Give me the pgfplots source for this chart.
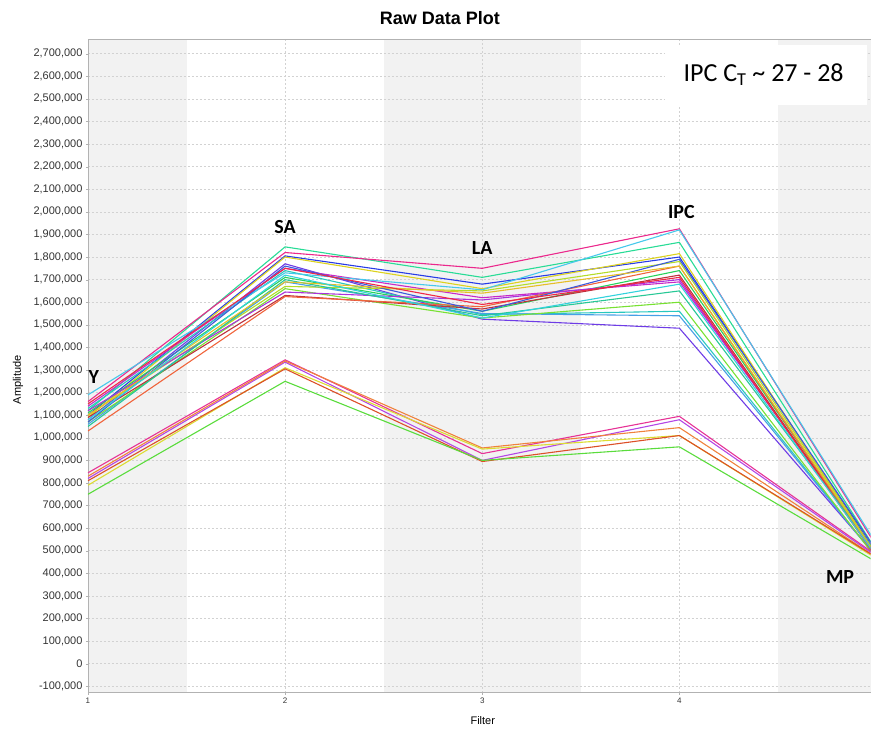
\documentclass[border=0pt]{standalone}
\usepackage{fontspec}
\setmainfont{Liberation Sans}
\newfontfamily\calib{Carlito}
\usepackage{pgfplots}
\pgfplotsset{compat=1.18}

% line colours
\definecolor{c1}{RGB}{40,220,150}
\definecolor{c2}{RGB}{235,40,140}
\definecolor{c3}{RGB}{40,60,230}
\definecolor{c4}{RGB}{220,210,30}
\definecolor{c5}{RGB}{110,60,230}
\definecolor{c6}{RGB}{200,40,200}
\definecolor{c7}{RGB}{40,200,190}
\definecolor{c8}{RGB}{70,200,235}
\definecolor{c9}{RGB}{40,210,90}
\definecolor{c10}{RGB}{70,160,230}
\definecolor{c11}{RGB}{180,220,40}
\definecolor{c12}{RGB}{120,225,50}
\definecolor{c13}{RGB}{170,50,220}
\definecolor{c14}{RGB}{190,50,60}
\definecolor{c15}{RGB}{240,100,60}
\definecolor{c16}{RGB}{60,90,220}
\definecolor{c17}{RGB}{40,200,150}
\definecolor{c18}{RGB}{230,190,40}
\definecolor{c19}{RGB}{240,40,70}
\definecolor{c20}{RGB}{50,210,220}
\definecolor{l1}{RGB}{230,50,150}
\definecolor{l2}{RGB}{180,70,230}
\definecolor{l3}{RGB}{240,130,60}
\definecolor{l4}{RGB}{220,220,50}
\definecolor{l5}{RGB}{220,80,40}
\definecolor{l6}{RGB}{90,220,60}
\definecolor{band}{RGB}{242,242,242}

\begin{document}
\begin{tikzpicture}
\begin{axis}[
  at={(0,0)}, anchor=south west,
  scale only axis, width=783pt, height=654pt,
  set layers,
  xmin=1, xmax=4.97,
  ymin=-128000, ymax=2765000,
  xtick={1,2,3,4},
  ytick distance=100000,
  scaled y ticks=false,
  /pgf/number format/assume math mode=true,
  yticklabel style={font=\fontsize{11}{12}\selectfont, color=black!80,
    /pgf/number format/.cd, fixed, 1000 sep={,}},
  xticklabel style={font=\fontsize{8}{9}\selectfont, color=black!80},
  grid=major,
  grid style={gray!35, dash pattern=on 2pt off 2pt, line width=0.6pt},
  axis x line*=bottom, axis y line*=left,
  axis line style={gray!60, line width=0.8pt, -},
  tick style={gray!60},
  tick align=outside, major tick length=2pt,
  every axis plot/.append style={line width=1.1pt, mark=none},
]
% shaded filter bands
\addplot[fill=band, draw=none, line width=0pt, on layer=axis background]
  coordinates {(1,-128000) (1.5,-128000) (1.5,2765000) (1,2765000)} -- cycle;
\addplot[fill=band, draw=none, line width=0pt, on layer=axis background]
  coordinates {(2.5,-128000) (3.5,-128000) (3.5,2765000) (2.5,2765000)} -- cycle;
\addplot[fill=band, draw=none, line width=0pt, on layer=axis background]
  coordinates {(4.5,-128000) (5,-128000) (5,2765000) (4.5,2765000)} -- cycle;

% upper group
\addplot[c1]  coordinates {(1,1120000) (2,1845000) (3,1710000) (4,1865000) (5,500000)};
\addplot[c2]  coordinates {(1,1160000) (2,1820000) (3,1750000) (4,1925000) (5,520000)};
\addplot[c3]  coordinates {(1,1100000) (2,1805000) (3,1680000) (4,1800000) (5,490000)};
\addplot[c4]  coordinates {(1,1090000) (2,1800000) (3,1660000) (4,1815000) (5,480000)};
\addplot[c5]  coordinates {(1,1080000) (2,1770000) (3,1525000) (4,1485000) (5,475000)};
\addplot[c6]  coordinates {(1,1140000) (2,1750000) (3,1620000) (4,1690000) (5,490000)};
\addplot[c7]  coordinates {(1,1130000) (2,1740000) (3,1545000) (4,1560000) (5,470000)};
\addplot[c8]  coordinates {(1,1190000) (2,1730000) (3,1655000) (4,1920000) (5,530000)};
\addplot[c9]  coordinates {(1,1110000) (2,1710000) (3,1560000) (4,1740000) (5,480000)};
\addplot[c10] coordinates {(1,1060000) (2,1690000) (3,1550000) (4,1540000) (5,470000)};
\addplot[c11] coordinates {(1,1100000) (2,1670000) (3,1650000) (4,1780000) (5,485000)};
\addplot[c12] coordinates {(1,1070000) (2,1660000) (3,1530000) (4,1600000) (5,465000)};
\addplot[c13] coordinates {(1,1120000) (2,1645000) (3,1610000) (4,1700000) (5,480000)};
\addplot[c14] coordinates {(1,1090000) (2,1630000) (3,1570000) (4,1720000) (5,475000)};
\addplot[c15] coordinates {(1,1030000) (2,1625000) (3,1580000) (4,1760000) (5,470000)};
\addplot[c16] coordinates {(1,1070000) (2,1760000) (3,1560000) (4,1790000) (5,500000)};
\addplot[c17] coordinates {(1,1050000) (2,1700000) (3,1540000) (4,1650000) (5,490000)};
\addplot[c18] coordinates {(1,1100000) (2,1690000) (3,1640000) (4,1760000) (5,480000)};
\addplot[c19] coordinates {(1,1150000) (2,1750000) (3,1590000) (4,1710000) (5,470000)};
\addplot[c20] coordinates {(1,1080000) (2,1720000) (3,1530000) (4,1680000) (5,475000)};

% lower group
\addplot[l1] coordinates {(1,845000) (2,1345000) (3,930000) (4,1095000) (5,480000)};
\addplot[l2] coordinates {(1,820000) (2,1335000) (3,900000) (4,1080000) (5,475000)};
\addplot[l3] coordinates {(1,830000) (2,1340000) (3,955000) (4,1045000) (5,470000)};
\addplot[l4] coordinates {(1,790000) (2,1310000) (3,950000) (4,1010000) (5,465000)};
\addplot[l5] coordinates {(1,810000) (2,1305000) (3,895000) (4,1010000) (5,470000)};
\addplot[l6] coordinates {(1,750000) (2,1250000) (3,900000) (4,960000) (5,450000)};

% filter names
\node[font=\calib\bfseries\fontsize{20}{22}\selectfont] at (axis cs:1.03,1270000) {Y};
\node[font=\calib\bfseries\fontsize{20}{22}\selectfont] at (axis cs:2,1934000) {SA};
\node[font=\calib\bfseries\fontsize{20}{22}\selectfont] at (axis cs:3,1841000) {LA};
\node[font=\calib\bfseries\fontsize{20}{22}\selectfont] at (axis cs:4.01,2000000) {IPC};
\node[font=\calib\bfseries\fontsize{20}{22}\selectfont] at (axis cs:4.815,385000) {MP};
\end{axis}
% top border, title, axis labels, note box
\draw[gray!60, line width=0.8pt] (0pt,654pt) -- (783pt,654pt);
\node[font=\bfseries\fontsize{18}{20}\selectfont] at (352pt,675pt) {Raw Data Plot};
\node[rotate=90, font=\fontsize{11}{12}\selectfont] at (-70pt,313pt) {Amplitude};
\node[font=\fontsize{11}{12}\selectfont] at (395pt,-28pt) {Filter};
\fill[white] (577pt,588pt) rectangle (779pt,648pt);
\node[font=\calib\fontsize{26}{28}\selectfont] at (676pt,618pt) {IPC C\textsubscript{T} \char`~{} 27 - 28};
\path[use as bounding box] (-88pt,-38pt) rectangle (783pt,693pt);
\end{tikzpicture}
\end{document}
